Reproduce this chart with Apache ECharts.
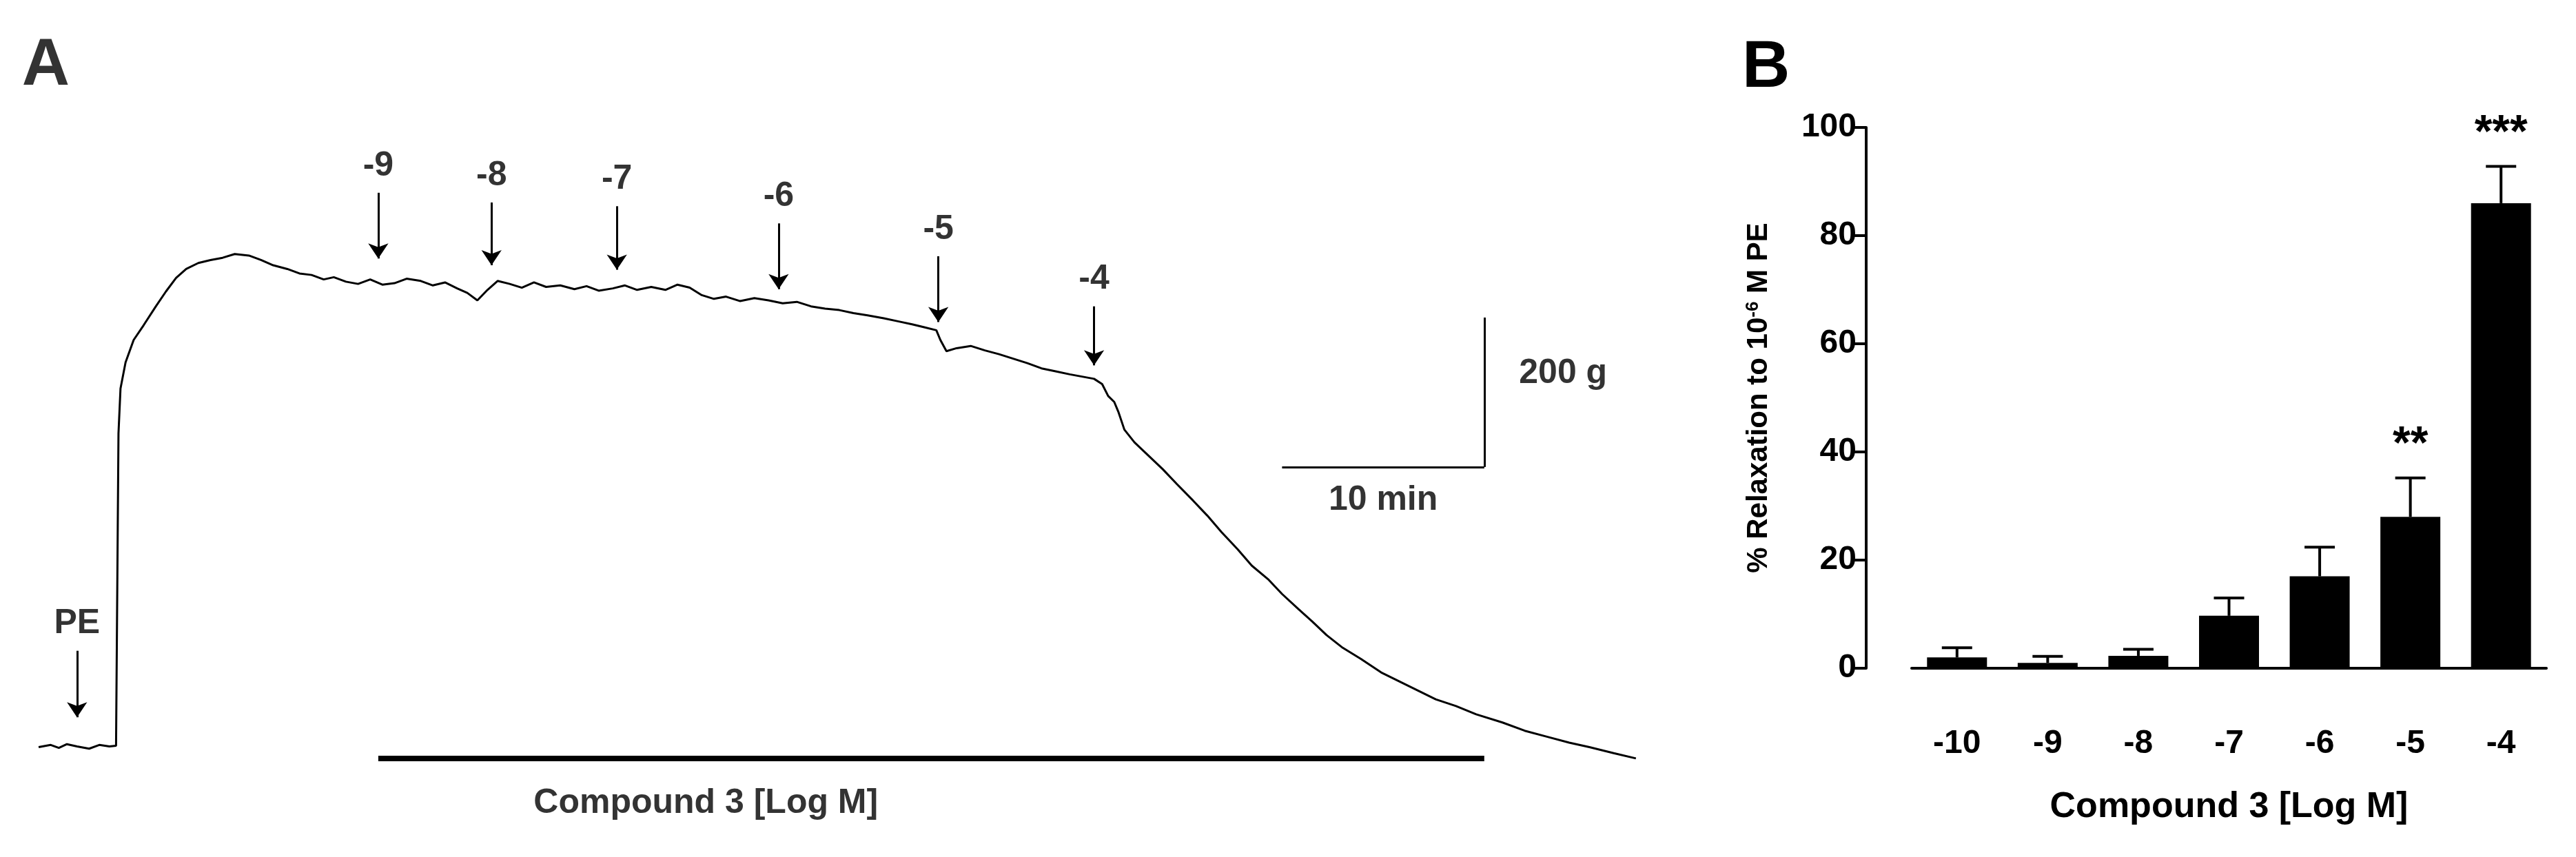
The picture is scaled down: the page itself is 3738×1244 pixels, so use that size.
<!DOCTYPE html>
<html><head><meta charset="utf-8">
<script src="https://cdn.jsdelivr.net/npm/echarts@6/dist/echarts.min.js"></script>
<style>html,body{margin:0;background:#fff}#c{width:3738px;height:1244px}</style>
</head><body><div id="c"></div>
<script>
// Panel A trace: time (min), tension (g)
const traceT = [0,0.6,1.0,1.4,1.9,2.5,3.0,3.5,3.83,3.95,4.05,4.3,4.7,5.2,5.8,6.3,6.8,7.3,7.9,8.5,9.1,9.7,10.4,11.0,11.6,12.3,12.9,13.5,14.1,14.6,15.2,15.8,16.4,17.0,17.6,18.2,18.9,19.5,20.1,20.7,21.2,21.7,22.2,22.7,23.3,23.9,24.5,25.1,25.8,26.5,27.1,27.7,28.4,29.0,29.6,30.3,31.0,31.6,32.2,32.8,33.4,34.0,34.7,35.4,36.1,36.8,37.5,38.2,38.9,39.6,40.3,41.0,41.8,42.5,43.2,43.8,44.4,44.6,44.9,45.4,46.1,46.8,47.5,48.2,48.9,49.6,50.3,51.0,51.6,52.2,52.6,52.9,53.2,53.4,53.7,54.2,54.9,55.6,56.3,57.1,57.8,58.5,59.3,60.0,60.8,61.5,62.3,63.0,63.7,64.5,65.4,66.4,67.3,68.2,69.1,70.1,71.1,72.4,73.5,74.6,75.7,76.7,77.9,79.0];
const traceG = [0,3,-1,4,1,-2,3,1,2,420,480,515,545,565,590,610,628,640,648,652,655,660,658,652,645,640,634,632,626,629,623,620,626,619,621,627,624,618,622,614,608,598,612,624,620,615,622,616,618,613,617,611,614,618,612,616,612,619,615,605,600,603,597,601,598,594,596,590,587,585,581,578,574,570,566,562,558,545,530,534,537,531,526,520,514,507,503,499,496,493,486,470,462,449,425,408,390,372,352,330,310,288,265,243,225,205,185,168,150,133,118,100,88,76,64,55,44,33,22,14,6,0,-8,-15,-22];
const doseLabels = ['-9','-8','-7','-6','-5','-4','PE'];
const doseT = [16.8,22.4,28.6,36.6,44.5,52.2,1.9];
const arrowTopG = [742,729,724,701,657,590,129];
const arrowEndG = [654,645,639,613,569,511,40];
// Scale bars
const scaleMinutes = 10, scaleGrams = 200;
// Panel B
const categories = ['-10','-9','-8','-7','-6','-5','-4'];
const relaxMean = [2,1,2.3,9.7,17,28,86];
const relaxErr = [3.8,2.2,3.5,13,22.4,35.2,92.8];
const stars = ['','','','','','**','***'];

const F = "'Liberation Sans Narrow','Liberation Sans',Arial,sans-serif";
const FB = "'Liberation Sans',Arial,sans-serif";
const chart = echarts.init(document.getElementById('c'));
const tXmin = -1.91, tXmax = 83.3, gMin = -147, gMax = 1000;
const barStart = 16.8, barEnd = 71.5, barG = -15;
const sbX = 71.5, sbY = 575;
chart.setOption({
  animation:false,
  grid:[{left:0,top:0,width:2500,height:1244},{left:2774,top:185,width:921,height:785}],
  xAxis:[
    {gridIndex:0,type:'value',min:tXmin,max:tXmax,show:false},
    {gridIndex:1,type:'category',data:categories,offset:66,
     axisLine:{lineStyle:{color:'#000',width:4}},axisTick:{length:16,lineStyle:{width:4,color:'#000'}},
     axisLabel:{color:'#000',fontSize:48,fontWeight:'bold',fontFamily:FB,margin:20},
     name:'Compound 3 [Log M]',nameLocation:'middle',nameGap:110,
     nameTextStyle:{color:'#000',fontSize:52,fontWeight:'bold',fontFamily:FB}}
  ],
  yAxis:[
    {gridIndex:0,type:'value',min:gMin,max:gMax,show:false},
    {gridIndex:1,type:'value',min:0,max:100,interval:20,offset:66,
     axisLine:{show:true,lineStyle:{color:'#000',width:4}},axisTick:{show:true,length:17,lineStyle:{width:4,color:'#000'}},
     splitLine:{show:false},
     axisLabel:{color:'#000',fontSize:48,fontWeight:'bold',fontFamily:FB,margin:14},
     name:'{a|% Relaxation to 10}{s|-6}{a| M PE}',nameLocation:'middle',nameGap:135,nameRotate:90,
     nameTextStyle:{rich:{a:{color:'#000',fontSize:42,fontWeight:'bold',fontFamily:FB},s:{color:'#000',fontSize:26,fontWeight:'bold',fontFamily:FB,verticalAlign:'top',padding:[0,0,16,0]}}}}
  ],
  series:[
    {type:'line',xAxisIndex:0,yAxisIndex:0,data:traceT.map((t,i)=>[t,traceG[i]]),symbol:'none',
     lineStyle:{color:'#000',width:3}},
    {type:'lines',coordinateSystem:'cartesian2d',xAxisIndex:0,yAxisIndex:0,
     symbol:['none','arrow'],symbolSize:22,
     lineStyle:{color:'#000',width:3,opacity:1},
     data:doseT.map((t,i)=>({coords:[[t,arrowTopG[i]],[t,arrowEndG[i]]]}))},
    {type:'scatter',xAxisIndex:0,yAxisIndex:0,symbolSize:0,
     data:doseT.map((t,i)=>({value:[t,arrowTopG[i]],label:{show:true,formatter:doseLabels[i],position:'top',distance:14,
       color:'#000',fontSize:50,fontWeight:'bold',fontFamily:F}}))},
    {type:'lines',coordinateSystem:'cartesian2d',xAxisIndex:0,yAxisIndex:0,
     lineStyle:{color:'#000',width:8,opacity:1},
     data:[{coords:[[barStart,barG],[barEnd,barG]]}]},
    {type:'lines',coordinateSystem:'cartesian2d',xAxisIndex:0,yAxisIndex:0,
     lineStyle:{color:'#000',width:3,opacity:1},
     data:[{coords:[[sbX-scaleMinutes,sbY-scaleGrams],[sbX,sbY-scaleGrams],[sbX,sbY]]},
           {coords:[[sbX,sbY],[sbX,sbY-scaleGrams]]}]},
    {type:'scatter',xAxisIndex:0,yAxisIndex:0,symbolSize:0,
     data:[
      {value:[sbX+3.9,sbY-scaleGrams/2+25],label:{show:true,formatter:scaleGrams+' g'}},
      {value:[sbX-scaleMinutes/2,sbY-scaleGrams-45],label:{show:true,formatter:scaleMinutes+' min'}},
      {value:[33,-75],label:{show:true,formatter:'Compound 3 [Log M]'}},
      {value:[0.35,911],label:{show:true,formatter:'A',fontSize:96,fontFamily:FB}}
     ],
     label:{color:'#000',fontSize:50,fontWeight:'bold',fontFamily:F,position:'inside'}},
    {type:'bar',xAxisIndex:1,yAxisIndex:1,data:relaxMean,barWidth:87,itemStyle:{color:'#000'},z:3},
    {type:'custom',xAxisIndex:1,yAxisIndex:1,z:2,
     data:categories.map((c,i)=>[i,relaxMean[i],relaxErr[i]]),
     renderItem:(p,api)=>{
       const b=api.coord([api.value(0),api.value(1)]), t=api.coord([api.value(0),api.value(2)]);
       const i=api.value(0);
       const ch=[
        {type:'line',shape:{x1:b[0],y1:b[1],x2:t[0],y2:t[1]},style:{stroke:'#000',lineWidth:4}},
        {type:'line',shape:{x1:t[0]-22,y1:t[1],x2:t[0]+22,y2:t[1]},style:{stroke:'#000',lineWidth:4}}];
       if(stars[i]) ch.push({type:'text',style:{text:stars[i],x:t[0],y:t[1]-14,align:'center',verticalAlign:'bottom',
         fill:'#000',font:'bold 66px '+FB}});
       return {type:'group',children:ch};
     }}
  ],
  graphic:[{type:'text',left:2528,top:52,style:{text:'B',fill:'#000',font:'bold 96px '+FB}}]
});
</script></body></html>
